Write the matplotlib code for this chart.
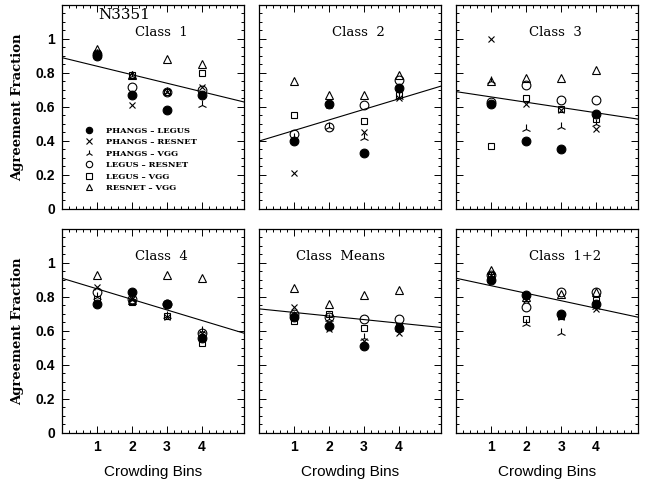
import matplotlib
matplotlib.use("Agg")
import matplotlib.pyplot as plt
import numpy as np

# crowding bins
bins = [1, 2, 3, 4]

pairs = ["PHANGS – LEGUS", "PHANGS – RESNET", "PHANGS – VGG",
         "LEGUS – RESNET", "LEGUS – VGG", "RESNET – VGG"]

# agreement fractions, one row per pair (same order as `pairs`)
class1 = [[0.90, 0.67, 0.58, 0.67],
          [0.92, 0.61, 0.69, 0.72],
          [0.91, 0.78, 0.69, 0.61],
          [0.91, 0.72, 0.69, 0.70],
          [0.91, 0.79, 0.69, 0.80],
          [0.94, 0.79, 0.88, 0.85]]
class2 = [[0.40, 0.62, 0.33, 0.71],
          [0.21, 0.61, 0.45, 0.65],
          [0.42, 0.48, 0.42, 0.66],
          [0.44, 0.48, 0.61, 0.76],
          [0.55, 0.62, 0.52, 0.67],
          [0.75, 0.67, 0.67, 0.79]]
class3 = [[0.62, 0.40, 0.35, 0.56],
          [1.00, 0.62, 0.58, 0.47],
          [0.75, 0.47, 0.48, 0.50],
          [0.63, 0.73, 0.64, 0.64],
          [0.37, 0.65, 0.59, 0.53],
          [0.75, 0.77, 0.77, 0.82]]
class4 = [[0.76, 0.83, 0.76, 0.56],
          [0.86, 0.79, 0.68, 0.59],
          [0.80, 0.78, 0.69, 0.60],
          [0.83, 0.79, 0.76, 0.59],
          [0.79, 0.77, 0.69, 0.53],
          [0.93, 0.78, 0.93, 0.91]]
class_means = [[0.68, 0.63, 0.51, 0.62],
               [0.74, 0.61, 0.54, 0.59],
               [0.69, 0.67, 0.56, 0.61],
               [0.70, 0.68, 0.67, 0.67],
               [0.66, 0.70, 0.62, 0.63],
               [0.85, 0.76, 0.81, 0.84]]
class12 = [[0.90, 0.81, 0.70, 0.76],
           [0.93, 0.78, 0.68, 0.73],
           [0.92, 0.64, 0.59, 0.74],
           [0.93, 0.74, 0.83, 0.83],
           [0.93, 0.67, 0.69, 0.78],
           [0.96, 0.80, 0.82, 0.83]]

titles = ["Class  1", "Class  2", "Class  3", "Class  4", "Class  Means", "Class  1+2"]
title_x = [0.40, 0.40, 0.40, 0.40, 0.20, 0.40]
panels = [class1, class2, class3, class4, class_means, class12]

# linear fit lines (intercept at bin 0, slope per bin)
fit_icpt = [0.89, 0.40, 0.69, 0.91, 0.73, 0.91]
fit_slope = [-0.050, 0.062, -0.031, -0.062, -0.021, -0.044]

markers = ["o", "x", "2", "o", "s", "^"]
filled = [True, False, False, False, False, False]
msizes = [6.3, 4.8, 6.5, 6.3, 5.0, 5.8]

fig, axes = plt.subplots(2, 3, figsize=(6.47, 4.84), dpi=100,
                         sharex=True, sharey=True)
fig.subplots_adjust(left=0.096, right=0.986, bottom=0.1054, top=0.9897,
                    wspace=0.086, hspace=0.098)

xs = np.array([0, 5.2])
for k, ax in enumerate(axes.flat):
    data = panels[k]
    for i in range(len(pairs)):
        fc = "black" if filled[i] else "none"
        ax.plot(bins, data[i], linestyle="none", marker=markers[i],
                markersize=msizes[i], markerfacecolor=fc,
                markeredgecolor="black", markeredgewidth=0.8,
                label=pairs[i])
    ax.plot(xs, fit_icpt[k] + fit_slope[k] * xs, color="black", lw=0.8)
    ax.text(title_x[k], 0.863, titles[k], transform=ax.transAxes,
            family="DejaVu Serif", fontsize=9.5, ha="left", va="center")
    ax.set_xlim(0, 5.2)
    ax.set_ylim(0, 1.2)
    ax.set_xticks(bins)
    ax.set_yticks([0, 0.2, 0.4, 0.6, 0.8, 1.0])
    ax.set_yticklabels(["0", "0.2", "0.4", "0.6", "0.8", "1"])
    ax.set_xticks(np.arange(0, 5.21, 0.2), minor=True)
    ax.set_yticks(np.arange(0, 1.21, 0.05), minor=True)
    ax.tick_params(which="both", direction="in", top=True, right=True,
                   labelsize=10, width=0.7)
    ax.tick_params(which="major", length=5, pad=5)
    ax.tick_params(which="minor", length=2.5)
    for lab in ax.get_xticklabels() + ax.get_yticklabels():
        lab.set_family("Liberation Sans")
        lab.set_fontweight("bold")
    for sp in ax.spines.values():
        sp.set_linewidth(0.9)

axes[0, 0].text(0.20, 0.95, "N3351", transform=axes[0, 0].transAxes,
                family="DejaVu Serif", fontsize=11, va="center")

leg = axes[0, 0].legend(loc="lower left", bbox_to_anchor=(0.105, 0.065),
                        frameon=False, handletextpad=1.6, labelspacing=0.42,
                        handlelength=1.0, borderaxespad=0.0,
                        prop={"family": "DejaVu Serif", "weight": "bold", "size": 6.0})
for h in leg.legend_handles:
    h.set_markersize(4.6)

for ax in axes[:, 0]:
    ax.set_ylabel("Agreement Fraction", family="DejaVu Serif",
                  fontweight="bold", fontsize=9.5, labelpad=8)
for ax in axes[1, :]:
    ax.set_xlabel("Crowding Bins", family="Liberation Sans", fontsize=11,
                  labelpad=8)

fig.savefig("out.png", dpi=100, facecolor="white")
